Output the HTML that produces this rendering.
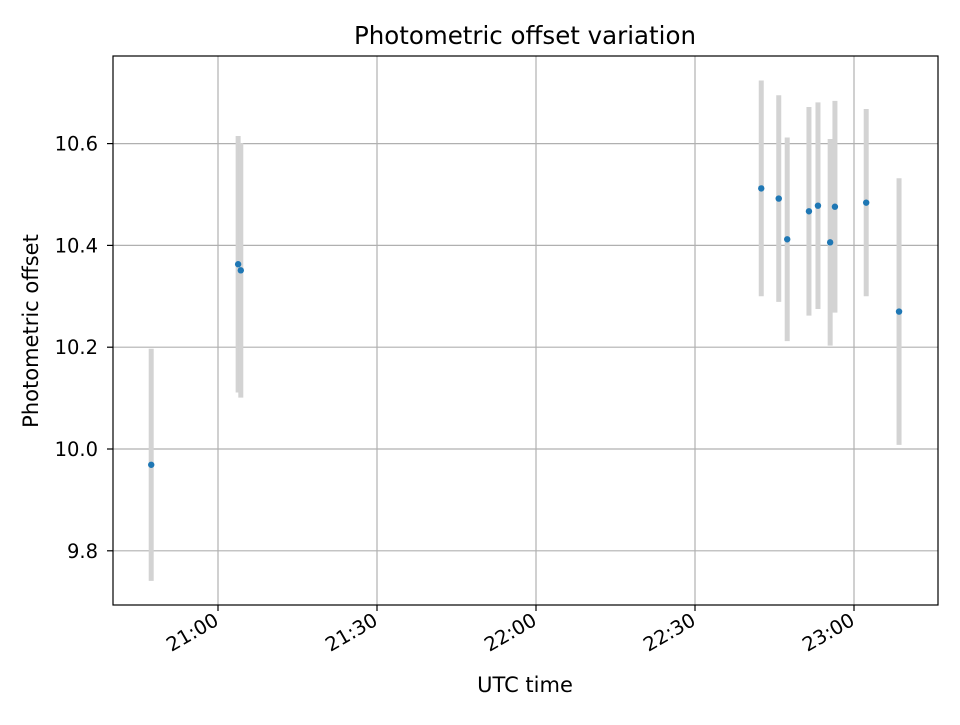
<!DOCTYPE html>
<html><head><meta charset="utf-8"><style>
body{margin:0;background:#fff;font-family:"Liberation Sans","DejaVu Sans",sans-serif}
svg text{font-family:"DejaVu Sans","Liberation Sans",sans-serif}
</style></head><body>
<svg id="chart" width="960" height="720" xmlns="http://www.w3.org/2000/svg">
<rect width="960" height="720" fill="#fff"/>
<text x="525" y="44" font-size="24.5" text-anchor="middle">Photometric offset variation</text>
<g id="grid"></g>
<g id="errs"></g>
<g id="pts"></g>
<rect x="113" y="56" width="825" height="549" fill="none" stroke="#000" stroke-width="1.2"/>
<g id="ticks"></g>
<text x="525" y="692" font-size="21" text-anchor="middle">UTC time</text>
<text transform="translate(38,331) rotate(-90)" font-size="21" text-anchor="middle">Photometric offset</text>
</svg>
<script>
// minutes after 20:00
const times=[47.4,63.8,64.3,162.5,165.8,167.4,171.5,173.2,175.5,176.4,182.3,188.5];
const offsets=[9.969,10.363,10.351,10.512,10.492,10.412,10.467,10.478,10.406,10.476,10.484,10.270];
const errors=[0.228,0.252,0.25,0.212,0.203,0.2,0.205,0.203,0.203,0.208,0.184,0.262];
const xTicks=[60,90,120,150,180];
const xTickLabels=["21:00","21:30","22:00","22:30","23:00"];
const yTicks=[9.8,10.0,10.2,10.4,10.6];
const yTickLabels=["9.8","10.0","10.2","10.4","10.6"];
const X=m=>218+(m-60)*5.3;
const Y=v=>449-(v-10)*509;
const NS="http://www.w3.org/2000/svg";
function mk(t,a,p){const e=document.createElementNS(NS,t);for(const k in a)e.setAttribute(k,a[k]);p.appendChild(e);return e;}
const g=document.getElementById('grid'),tk=document.getElementById('ticks');
xTicks.forEach((m,i)=>{const x=X(m);
 const l=mk('line',{x1:x,x2:x,y1:56,y2:605,stroke:'#b0b0b0','stroke-width':1.2},g);
 
 mk('line',{x1:x,x2:x,y1:605,y2:611,stroke:'#000','stroke-width':1.2},tk);
 const t=mk('text',{x:x+2,y:624,'font-size':19.5,'text-anchor':'end',transform:`rotate(-30 ${x+2} 624)`},tk);
 t.textContent=xTickLabels[i];
 });
yTicks.forEach((v,i)=>{const y=Y(v);
 const l=mk('line',{x1:113,x2:938,y1:y,y2:y,stroke:'#b0b0b0','stroke-width':1.2},g);
 
 mk('line',{x1:107,x2:113,y1:y,y2:y,stroke:'#000','stroke-width':1.2},tk);
 const t=mk('text',{x:98,y:y+7,'font-size':19.5,'text-anchor':'end'},tk);
 t.textContent=yTickLabels[i];
 });
const eg=document.getElementById('errs'),pg=document.getElementById('pts');
times.forEach((m,i)=>{const x=X(m);
 const e=mk('line',{x1:x,x2:x,y1:Y(offsets[i]+errors[i]),y2:Y(offsets[i]-errors[i]),stroke:'#d3d3d3','stroke-width':5},eg);
 });
times.forEach((m,i)=>{
 const c=mk('circle',{cx:X(m),cy:Y(offsets[i]),r:3.2,fill:'#1f77b4'},pg);
 });
</script>
</body></html>
